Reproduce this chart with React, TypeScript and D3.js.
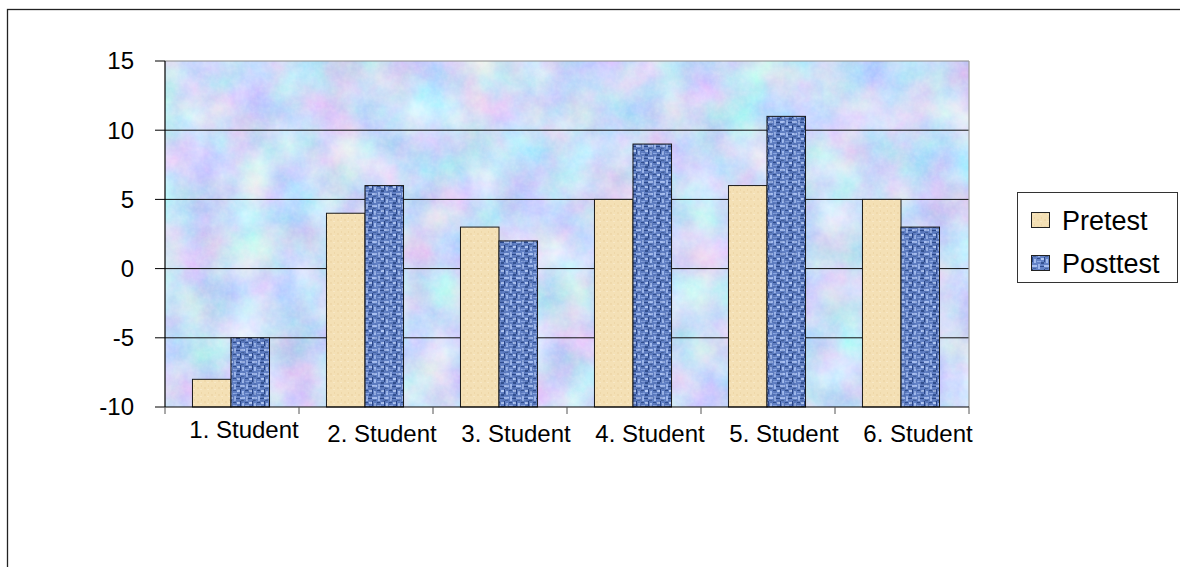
import React from "react";
import * as d3 from "d3";

const categories = ["1. Student", "2. Student", "3. Student", "4. Student", "5. Student", "6. Student"];
const pretest = [-8, 4, 3, 5, 6, 5];
const posttest = [-5, 6, 2, 9, 11, 3];
const seriesNames = ["Pretest", "Posttest"];
const yTicks = [-10, -5, 0, 5, 10, 15];

const W = 1180;
const H = 567;
const FONT = "'Liberation Sans', Arial, sans-serif";

export default function App() {
  const left = 165, right = 969, top = 61, bottom = 407;
  const x = d3.scaleBand<string>().domain(categories).range([left, right]).padding(0);
  const bw = x.bandwidth();
  const x1 = d3.scaleBand<string>().domain(seriesNames).range([bw * 0.205, bw * 0.78]).padding(0);
  const y = d3.scaleLinear().domain([-10, 15]).range([bottom, top]);
  const series = [pretest, posttest];
  const fills = ["url(#wheat)", "url(#weave)"];

  return (
    <svg width={W} height={H} style={{ position: "absolute", left: 0, top: 0, background: "#fff" }} fontFamily={FONT}>
      <defs>
        <filter id="tissue" x="0" y="0" width="100%" height="100%" colorInterpolationFilters="sRGB">
          <feTurbulence type="fractalNoise" baseFrequency="0.022" numOctaves="5" seed="7" result="n" />
          <feColorMatrix in="n" type="matrix" values="0.42 0 0 0 0.58  0 0.32 0 0 0.7  0 0 0.14 0 0.9  0 0 0 0 1" />
        </filter>
        <filter id="grain" x="0" y="0" width="100%" height="100%" colorInterpolationFilters="sRGB">
          <feTurbulence type="fractalNoise" baseFrequency="0.25" numOctaves="2" seed="3" result="n" />
          <feColorMatrix in="n" type="matrix" values="0 0 0 0 1  0 0 0 0 1  0 0 0 0 1  0.9 0 0 0 -0.3" />
        </filter>
        <filter id="wgrain" x="0" y="0" width="100%" height="100%" colorInterpolationFilters="sRGB">
          <feTurbulence type="fractalNoise" baseFrequency="0.3" numOctaves="2" seed="11" result="n" />
          <feColorMatrix in="n" type="matrix" values="0 0 0 0 0.1  0 0 0 0 0.2  0 0 0 0 0.45  1.2 0 0 0 -0.45" />
        </filter>
        <pattern id="wheat" patternUnits="userSpaceOnUse" width="7" height="7">
          <rect width="7" height="7" fill="#f4e0b5" />
          <rect x="1" y="2" width="2" height="2" fill="#efd8aa" />
          <rect x="4" y="4" width="2" height="1" fill="#f8e8c6" />
          <rect x="5" y="0" width="1" height="2" fill="#eed7a8" />
        </pattern>
        <pattern id="weave" patternUnits="userSpaceOnUse" width="12" height="12">
          <rect width="12" height="12" fill="#6382c6" />
          <rect x="0" y="1" width="5" height="2" fill="#a8bff0" />
          <rect x="6" y="0" width="2" height="5" fill="#9cb5ea" />
          <rect x="9" y="6" width="3" height="2" fill="#b2c8f4" />
          <rect x="2" y="7" width="2" height="4" fill="#a2bbee" />
          <rect x="5" y="9" width="4" height="1" fill="#8eaae4" />
          <rect x="8" y="2" width="4" height="1" fill="#2e4b8e" />
          <rect x="0" y="5" width="1" height="5" fill="#2b4789" />
          <rect x="5" y="6" width="3" height="1" fill="#32508f" />
          <rect x="9" y="10" width="3" height="2" fill="#355392" />
          <rect x="1" y="4" width="3" height="1" fill="#46649f" />
        </pattern>
      </defs>

      {/* outer chart border */}
      <rect x={7.5} y={9.5} width={1300} height={700} fill="#fff" stroke="#222" strokeWidth={1.3} />

      {/* plot background */}
      <rect x={left} y={top} width={right - left} height={bottom - top} filter="url(#tissue)" />
      <rect x={left} y={top} width={right - left} height={bottom - top} filter="url(#grain)" opacity={0.3} />

      {/* gridlines */}
      {yTicks.filter((t) => t !== -10 && t !== 15).map((t) => (
        <line key={t} x1={left} x2={right} y1={y(t)} y2={y(t)} stroke="#111" strokeWidth={1} />
      ))}
      <line x1={left} x2={right} y1={y(15)} y2={y(15)} stroke="#888" strokeWidth={1.2} />
      <line x1={right} x2={right} y1={top} y2={bottom} stroke="#999" strokeWidth={1.2} />

      {/* bars */}
      {categories.map((c, i) => (
        <g key={c}>
          {series.map((vals, s) => {
            const v = vals[i];
            const bx = (x(c) as number) + (x1(seriesNames[s]) as number);
            return (
              <g key={s}>
                <rect x={bx} y={y(v)} width={x1.bandwidth()} height={y(-10) - y(v)} fill={fills[s]} />
                {s === 1 && (
                  <rect x={bx} y={y(v)} width={x1.bandwidth()} height={y(-10) - y(v)} filter="url(#wgrain)" opacity={0.5} />
                )}
                <rect x={bx} y={y(v)} width={x1.bandwidth()} height={y(-10) - y(v)} fill="none" stroke="#1a1a1a" strokeWidth={1} />
              </g>
            );
          })}
        </g>
      ))}

      {/* axes */}
      <line x1={left} x2={left} y1={top} y2={bottom} stroke="#000" strokeWidth={1.2} />
      <line x1={left} x2={right} y1={bottom} y2={bottom} stroke="#000" strokeWidth={1.2} />
      {yTicks.map((t) => (
        <g key={t}>
          <line x1={left - 10} x2={left} y1={y(t)} y2={y(t)} stroke="#000" strokeWidth={1} />
          <text x={134} y={y(t)} dy="0.35em" textAnchor="end" fontSize={24} fill="#000">
            {t}
          </text>
        </g>
      ))}
      {[...categories.map((c) => x(c) as number), right].map((px, i) => (
        <line key={i} x1={px} x2={px} y1={bottom} y2={bottom + 7} stroke="#555" strokeWidth={1} />
      ))}
      {categories.map((c, i) => (
        <text key={c} x={(x(c) as number) + bw / 2 + (i === 0 ? 12 : 16)} y={i === 0 ? 438 : 442} textAnchor="middle" fontSize={24} fill="#000">
          {c}
        </text>
      ))}

      {/* legend */}
      <rect x={1017.5} y={192.5} width={160} height={90} fill="#fff" stroke="#333" strokeWidth={1} />
      {seriesNames.map((n, i) => (
        <g key={n}>
          <rect x={1031.5} y={212.5 + i * 43} width={18} height={15} fill={fills[i]} stroke="#222" strokeWidth={1} />
          <text x={1062} y={230 + i * 43} fontSize={27} fill="#000">
            {n}
          </text>
        </g>
      ))}
    </svg>
  );
}
